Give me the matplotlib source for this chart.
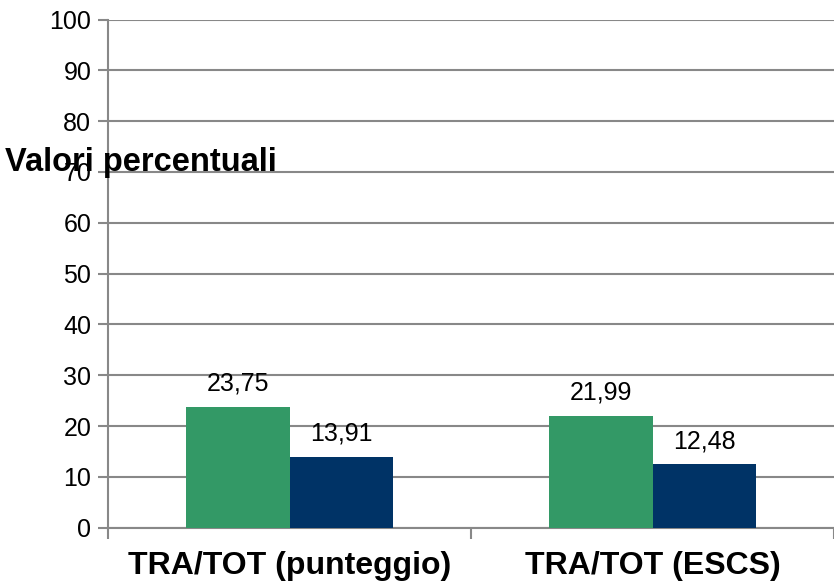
import matplotlib.pyplot as plt
import numpy as np

plt.rcParams['font.family'] = ['Liberation Sans', 'DejaVu Sans']

# data
categories = ["TRA/TOT (punteggio)", "TRA/TOT (ESCS)"]
serie_verde = [23.75, 21.99]
serie_blu = [13.91, 12.48]
etichette_verde = ["23,75", "21,99"]
etichette_blu = ["13,91", "12,48"]

fig = plt.figure(figsize=(8.34, 5.81), dpi=100)
ax = fig.add_axes([108 / 834, 1 - 527.7 / 581, 1 - 108 / 834, (527.7 - 19.5) / 581])

x = np.arange(len(categories))
w = 0.286
b1 = ax.bar(x - w / 2, serie_verde, w, color="#339966", zorder=3)
b2 = ax.bar(x + w / 2, serie_blu, w, color="#003366", zorder=3)

for rect, lab in zip(b1, etichette_verde):
    ax.annotate(lab, (rect.get_x() + rect.get_width() / 2, rect.get_height()),
                xytext=(0, 8), textcoords="offset points", ha="center", va="bottom", fontsize=18)
for rect, lab in zip(b2, etichette_blu):
    ax.annotate(lab, (rect.get_x() + rect.get_width() / 2, rect.get_height()),
                xytext=(0, 8), textcoords="offset points", ha="center", va="bottom", fontsize=18)

ax.set_xlim(-0.5, 1.5)
ax.set_ylim(0, 100)
ax.set_yticks(np.arange(0, 101, 10))
ax.grid(axis="y", color="#888888", linewidth=1.5, zorder=0)

ax.set_xticks(x)
ax.set_xticklabels(categories, fontsize=23, fontweight="bold")
ax.set_xticks([-0.5, 0.5, 1.5], minor=True)
ax.tick_params(axis="x", which="major", length=0, pad=16.5)
ax.tick_params(axis="x", which="minor", length=8, width=1.5, color="#888888")
ax.tick_params(axis="y", length=7, width=1.5, color="#888888", labelsize=18, pad=5)

for s in ["top", "right"]:
    ax.spines[s].set_visible(False)
ax.spines["left"].set_color("#888888")
ax.spines["left"].set_linewidth(1.5)
ax.spines["bottom"].set_color("#888888")
ax.spines["bottom"].set_linewidth(1.5)

fig.text(5 / 834, 1 - 171 / 581, "Valori percentuali", fontsize=23.5, fontweight="bold",
         ha="left", va="baseline")

plt.savefig("out.png", dpi=100)
